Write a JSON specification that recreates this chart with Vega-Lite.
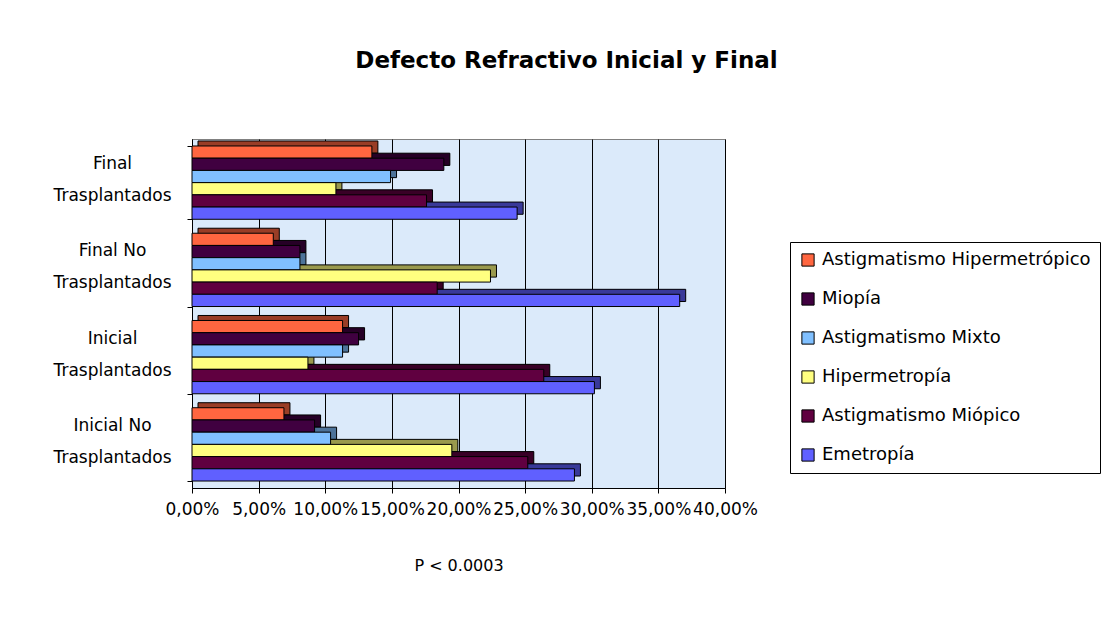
{
  "$schema": "https://vega.github.io/schema/vega-lite/v6.json",
  "autosize": "none",
  "width": 533,
  "height": 349,
  "padding": {"left": 192, "top": 139, "right": 390, "bottom": 135},
  "background": "white",
  "title": {
    "text": "Defecto Refractivo Inicial y Final",
    "font": "DejaVu Sans",
    "fontSize": 23,
    "fontWeight": "bold",
    "color": "black",
    "anchor": "middle",
    "dx": 108,
    "offset": 57
  },
  "config": {
    "view": {"fill": "#dbeafa", "stroke": "#808080", "strokeWidth": 1}
  },
  "data": {
    "values": [
      {"grupo": "Final Trasplantados", "defecto": "Astigmatismo Hipermetrópico", "porcentaje": 0.135},
      {"grupo": "Final Trasplantados", "defecto": "Miopía", "porcentaje": 0.189},
      {"grupo": "Final Trasplantados", "defecto": "Astigmatismo Mixto", "porcentaje": 0.149},
      {"grupo": "Final Trasplantados", "defecto": "Hipermetropía", "porcentaje": 0.108},
      {"grupo": "Final Trasplantados", "defecto": "Astigmatismo Miópico", "porcentaje": 0.176},
      {"grupo": "Final Trasplantados", "defecto": "Emetropía", "porcentaje": 0.244},
      {"grupo": "Final No Trasplantados", "defecto": "Astigmatismo Hipermetrópico", "porcentaje": 0.061},
      {"grupo": "Final No Trasplantados", "defecto": "Miopía", "porcentaje": 0.081},
      {"grupo": "Final No Trasplantados", "defecto": "Astigmatismo Mixto", "porcentaje": 0.081},
      {"grupo": "Final No Trasplantados", "defecto": "Hipermetropía", "porcentaje": 0.224},
      {"grupo": "Final No Trasplantados", "defecto": "Astigmatismo Miópico", "porcentaje": 0.184},
      {"grupo": "Final No Trasplantados", "defecto": "Emetropía", "porcentaje": 0.366},
      {"grupo": "Inicial Trasplantados", "defecto": "Astigmatismo Hipermetrópico", "porcentaje": 0.113},
      {"grupo": "Inicial Trasplantados", "defecto": "Miopía", "porcentaje": 0.125},
      {"grupo": "Inicial Trasplantados", "defecto": "Astigmatismo Mixto", "porcentaje": 0.113},
      {"grupo": "Inicial Trasplantados", "defecto": "Hipermetropía", "porcentaje": 0.087},
      {"grupo": "Inicial Trasplantados", "defecto": "Astigmatismo Miópico", "porcentaje": 0.264},
      {"grupo": "Inicial Trasplantados", "defecto": "Emetropía", "porcentaje": 0.302},
      {"grupo": "Inicial No Trasplantados", "defecto": "Astigmatismo Hipermetrópico", "porcentaje": 0.069},
      {"grupo": "Inicial No Trasplantados", "defecto": "Miopía", "porcentaje": 0.092},
      {"grupo": "Inicial No Trasplantados", "defecto": "Astigmatismo Mixto", "porcentaje": 0.104},
      {"grupo": "Inicial No Trasplantados", "defecto": "Hipermetropía", "porcentaje": 0.195},
      {"grupo": "Inicial No Trasplantados", "defecto": "Astigmatismo Miópico", "porcentaje": 0.252},
      {"grupo": "Inicial No Trasplantados", "defecto": "Emetropía", "porcentaje": 0.287}
    ]
  },
  "encoding": {
    "y": {
      "field": "grupo",
      "type": "nominal",
      "sort": ["Final Trasplantados", "Final No Trasplantados", "Inicial Trasplantados", "Inicial No Trasplantados"],
      "scale": {"paddingInner": 0.16, "paddingOuter": 0.08},
      "axis": {
        "title": null,
        "labelExpr": "datum.label ? [replace(datum.label, ' Trasplantados', ''), 'Trasplantados'] : ''",
        "labelFont": "DejaVu Sans",
        "labelFontSize": 17,
        "labelColor": "black",
        "labelAlign": "center",
        "labelBaseline": "middle",
        "labelLineHeight": 32,
        "labelOffset": -19,
        "labelPadding": 75,
        "tickBand": "extent",
        "tickSize": 5,
        "tickColor": "black",
        "domainColor": "black",
        "grid": false
      }
    },
    "x": {
      "field": "porcentaje",
      "type": "quantitative",
      "scale": {"domain": [0, 0.4], "nice": false},
      "axis": {
        "values": [0, 0.05, 0.1, 0.15, 0.2, 0.25, 0.3, 0.35, 0.4],
        "labelExpr": "replace(format(datum.value * 100, '.2f'), '.', ',') + '%'",
        "labelFont": "DejaVu Sans",
        "labelFontSize": 17,
        "labelColor": "black",
        "labelPadding": 8,
        "labelOverlap": false,
        "labelFlush": false,
        "tickSize": 5,
        "tickColor": "black",
        "domainColor": "black",
        "grid": true,
        "gridColor": "black",
        "gridWidth": 1,
        "title": "P < 0.0003",
        "titleFont": "DejaVu Sans",
        "titleFontSize": 16,
        "titleFontWeight": "normal",
        "titleColor": "black",
        "titlePadding": 40
      }
    },
    "color": {
      "field": "defecto",
      "type": "nominal",
      "scale": {
        "domain": ["Astigmatismo Hipermetrópico", "Miopía", "Astigmatismo Mixto", "Hipermetropía", "Astigmatismo Miópico", "Emetropía"],
        "range": ["#ff6640", "#400040", "#80c0ff", "#ffff80", "#600040", "#6060ff"]
      },
      "legend": {
        "orient": "none",
        "legendX": 598,
        "legendY": 103,
        "title": null,
        "strokeColor": "black",
        "fillColor": "white",
        "padding": 9,
        "symbolType": "square",
        "symbolSize": 150,
        "symbolStrokeColor": "black",
        "symbolStrokeWidth": 1,
        "symbolOpacity": 1,
        "labelFont": "DejaVu Sans",
        "labelFontSize": 18,
        "labelColor": "black",
        "labelOffset": 5,
        "labelLimit": 400,
        "rowPadding": 21
      }
    }
  },
  "layer": [
    {
      "layer": [
        {
          "mark": {"type": "bar", "xOffset": 6, "stroke": "black", "strokeWidth": 1, "opacity": 1},
          "encoding": {
            "yOffset": {
              "field": "defecto",
              "type": "nominal",
              "sort": ["Astigmatismo Hipermetrópico", "Miopía", "Astigmatismo Mixto", "Hipermetropía", "Astigmatismo Miópico", "Emetropía"],
              "scale": {"range": [-5, 68.3]}
            }
          }
        },
        {
          "mark": {"type": "bar", "xOffset": 6, "fill": "black", "fillOpacity": 0.4, "strokeWidth": 0},
          "encoding": {
            "yOffset": {
              "field": "defecto",
              "type": "nominal",
              "sort": ["Astigmatismo Hipermetrópico", "Miopía", "Astigmatismo Mixto", "Hipermetropía", "Astigmatismo Miópico", "Emetropía"],
              "scale": {"range": [-5, 68.3]}
            }
          }
        }
      ]
    },
    {
      "mark": {"type": "bar", "stroke": "black", "strokeWidth": 1, "opacity": 1},
      "encoding": {
        "yOffset": {
          "field": "defecto",
          "type": "nominal",
          "sort": ["Astigmatismo Hipermetrópico", "Miopía", "Astigmatismo Mixto", "Hipermetropía", "Astigmatismo Miópico", "Emetropía"]
        }
      }
    }
  ],
  "resolve": {"scale": {"yOffset": "independent"}}
}
